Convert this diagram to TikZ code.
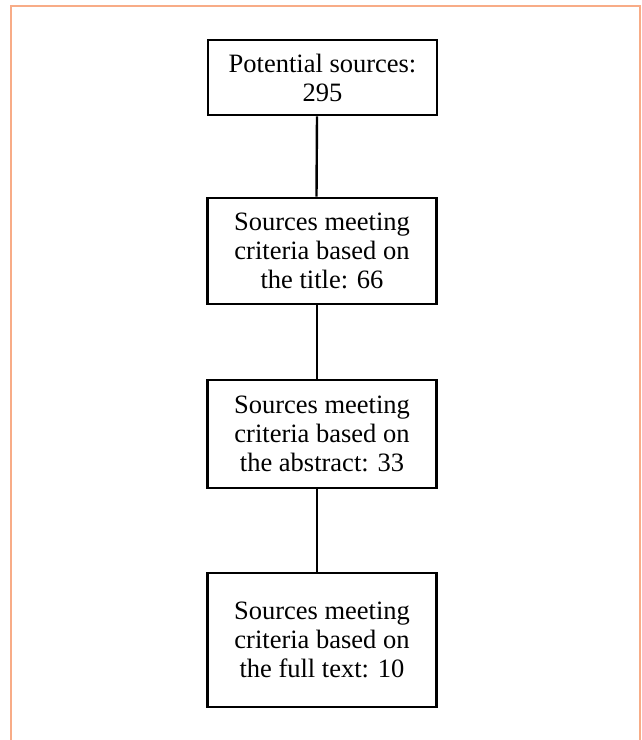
\documentclass[tikz,border=0pt]{standalone}
\usepackage{fontspec}
\setmainfont{Liberation Serif}
\definecolor{frameorange}{RGB}{248,172,135}
\begin{document}
\begin{tikzpicture}[x=1pt,y=-1pt,
  stepbox/.style={draw=black, line width=2.8pt, fill=white, inner sep=0pt,
    minimum width=229pt, align=center,
    font=\fontsize{26.5}{29}\selectfont},
  link/.style={draw=black, line width=2.4pt}]
\useasboundingbox (0,0) rectangle (641,740);
\draw[frameorange, line width=1.8pt] (11,760) -- (11,6) -- (640,6) -- (640,760);
\node[stepbox, minimum height=75pt] (b1) at (322.5,77.5) {Potential sources:\\295};
\node[stepbox, minimum height=106pt] (b2) at (322,251) {Sources meeting\\criteria based on\\the title: 66};
\node[stepbox, minimum height=108pt] (b3) at (322,434) {Sources meeting\\criteria based on\\the abstract: 33};
\node[stepbox, minimum height=134pt] (b4) at (322,640) {Sources meeting\\criteria based on\\the full text: 10};
\draw[link] ([xshift=-5.5pt]b1.south) -- ([xshift=-5.5pt]b2.north);
\draw[link] ([xshift=-5pt]b2.south) -- ([xshift=-5pt]b3.north);
\draw[link] ([xshift=-5pt]b3.south) -- ([xshift=-5pt]b4.north);
\end{tikzpicture}
\end{document}
